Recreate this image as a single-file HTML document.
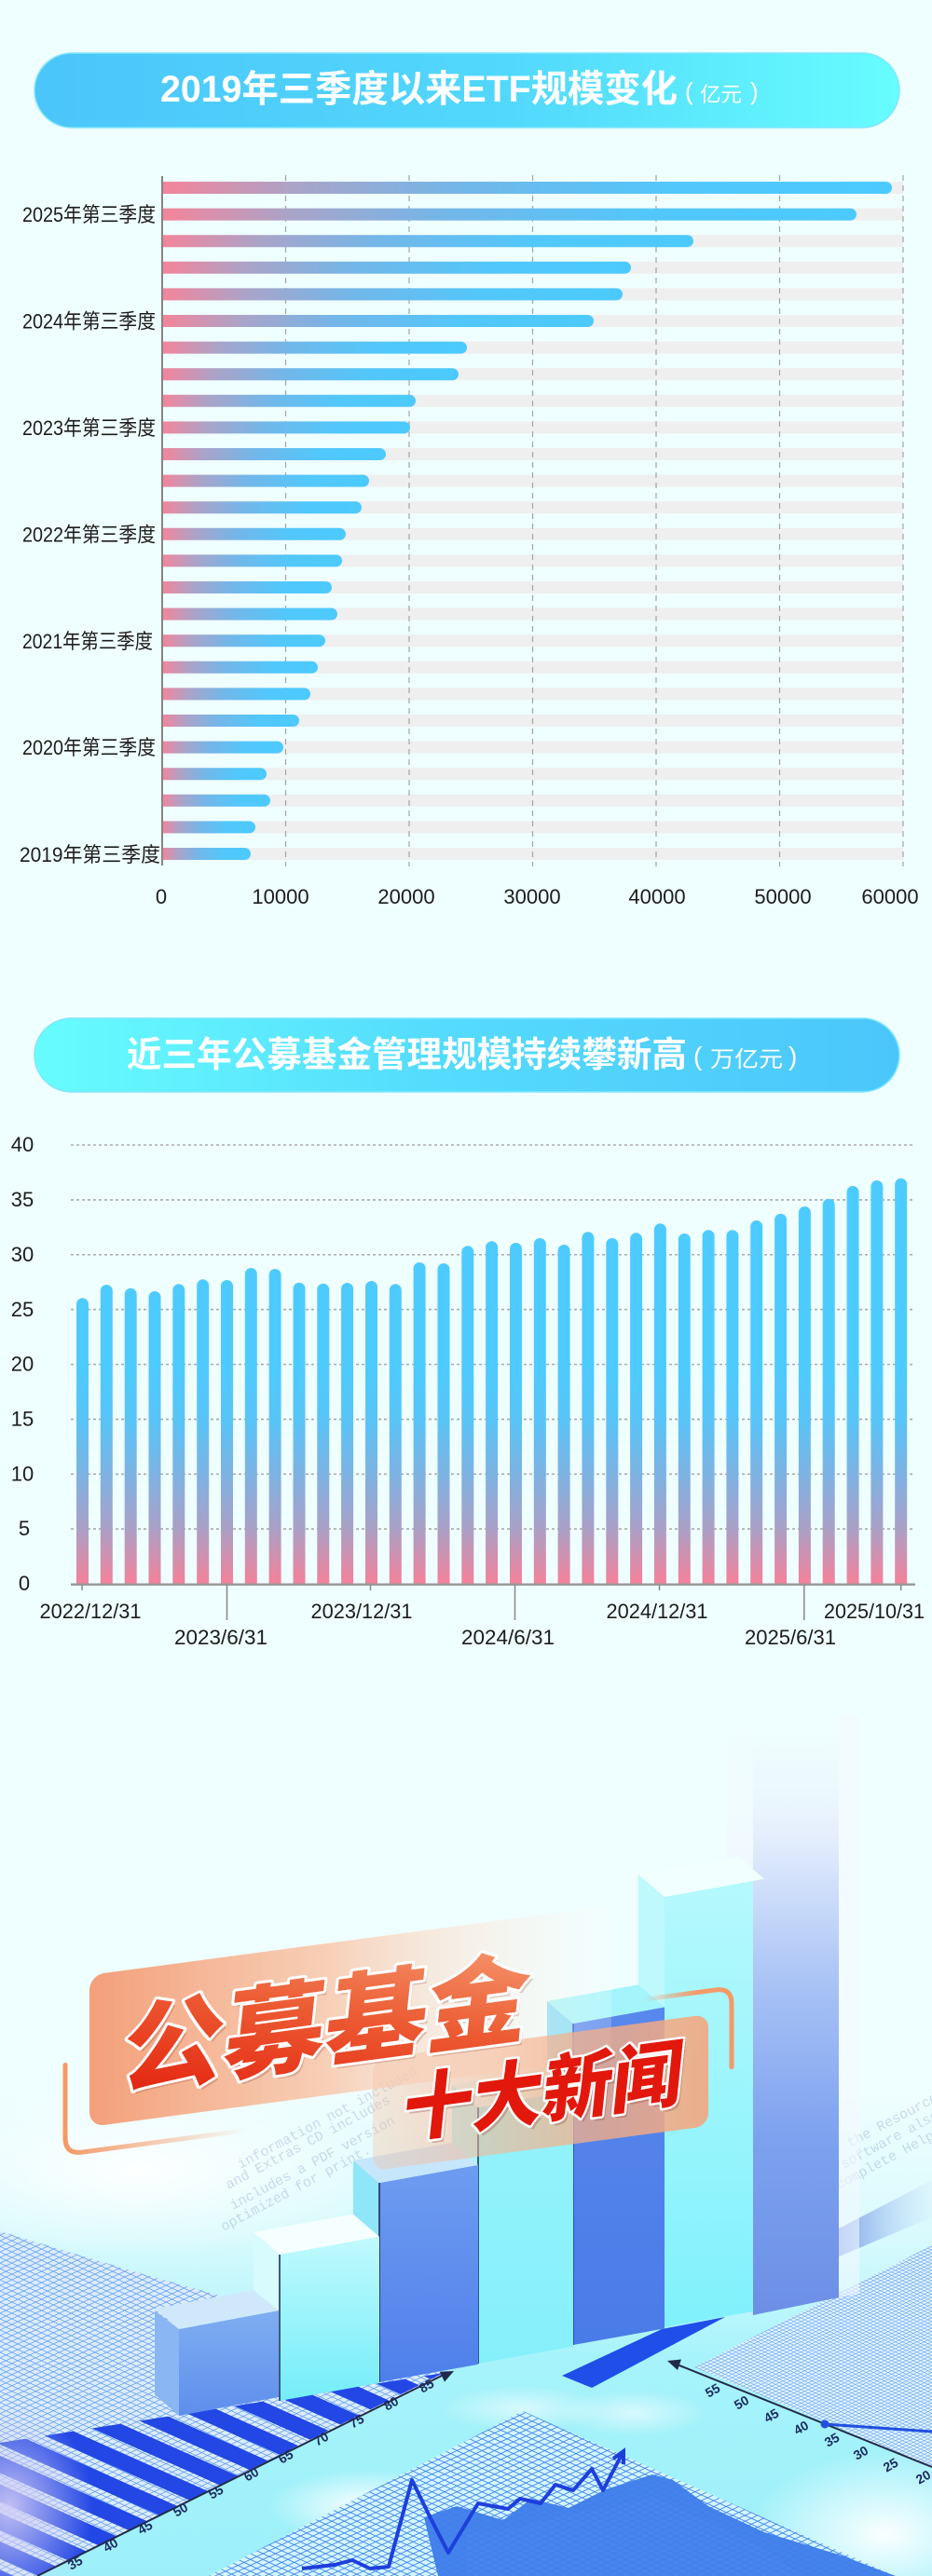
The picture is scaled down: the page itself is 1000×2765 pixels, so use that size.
<!DOCTYPE html>
<html><head><meta charset="utf-8">
<style>
html,body{margin:0;padding:0;background:#effefe;}
body{width:1000px;height:2765px;overflow:hidden;}
svg{display:block;}
.t{font-family:"Liberation Sans","Noto Sans CJK SC",sans-serif;}
.cj{font-family:"Liberation Sans","Noto Sans CJK SC","WenQuanYi Zen Hei",sans-serif;}
</style></head>
<body>
<svg width="1000" height="2765" viewBox="0 0 1000 2765" xmlns="http://www.w3.org/2000/svg">
<defs>
  <linearGradient id="pill1" x1="0" y1="0" x2="1" y2="0">
    <stop offset="0" stop-color="#4bc5fa"/><stop offset="0.55" stop-color="#52d8fc"/><stop offset="1" stop-color="#67fdfe"/>
  </linearGradient>
  <linearGradient id="pill2" x1="0" y1="0" x2="1" y2="0">
    <stop offset="0" stop-color="#67fdfe"/><stop offset="0.45" stop-color="#55dcfd"/><stop offset="1" stop-color="#4bc6fb"/>
  </linearGradient>
  <linearGradient id="hbar" x1="0" y1="0" x2="1" y2="0">
    <stop offset="0" stop-color="#f5849a"/><stop offset="0.18" stop-color="#aba3c8"/><stop offset="0.4" stop-color="#74b6e8"/><stop offset="0.7" stop-color="#52c7fb"/><stop offset="1" stop-color="#4ccaff"/>
  </linearGradient>
  <linearGradient id="vbar" gradientUnits="userSpaceOnUse" x1="0" y1="1700" x2="0" y2="1464">
    <stop offset="0" stop-color="#f5819a"/><stop offset="0.25" stop-color="#aaa0c6"/><stop offset="0.5" stop-color="#7db3e3"/><stop offset="0.75" stop-color="#58c4f7"/><stop offset="1" stop-color="#4dcbff"/>
  </linearGradient>
  <linearGradient id="floor" x1="0" y1="0" x2="0" y2="1">
    <stop offset="0" stop-color="#effefe"/><stop offset="0.3" stop-color="#d8fafd"/><stop offset="0.55" stop-color="#a6f3fb"/><stop offset="1" stop-color="#9df0fa"/>
  </linearGradient>
  <radialGradient id="wglow"><stop offset="0" stop-color="#ffffff" stop-opacity="0.95"/><stop offset="1" stop-color="#ffffff" stop-opacity="0"/></radialGradient>
  <radialGradient id="pglow"><stop offset="0" stop-color="#d3cdf5" stop-opacity="0.9"/><stop offset="1" stop-color="#d3cdf5" stop-opacity="0"/></radialGradient>
  <pattern id="gS" width="9" height="9" patternUnits="userSpaceOnUse" patternTransform="scale(1,0.47) rotate(45)">
    <path d="M0 0.6H9M0.6 0V9" stroke="#5c9bf1" stroke-width="1.2" fill="none"/>
  </pattern>
  <pattern id="gR" width="5.5" height="5.5" patternUnits="userSpaceOnUse" patternTransform="scale(1,0.47) rotate(45)">
    <path d="M0 0.5H5.5M0.5 0V5.5" stroke="#5c9bf1" stroke-width="0.9" fill="none"/>
  </pattern>
  <pattern id="gL" width="9.5" height="9.5" patternUnits="userSpaceOnUse" patternTransform="scale(1,0.47) rotate(45)">
    <path d="M0 0.7H9.5M0.7 0V9.5" stroke="#3a7fee" stroke-width="1.4" fill="none"/>
  </pattern>
  <pattern id="stripes" width="40" height="28" patternUnits="userSpaceOnUse" patternTransform="rotate(24)">
    <rect width="40" height="17" fill="#2247e5"/>
  </pattern>
  <linearGradient id="gG" x1="0" y1="0" x2="0" y2="1">
    <stop offset="0" stop-color="#f2fdff" stop-opacity="0"/><stop offset="0.2" stop-color="#e4eefd"/><stop offset="0.45" stop-color="#a8c2f5"/><stop offset="0.7" stop-color="#7ea2ef"/><stop offset="1" stop-color="#6c8fe6"/>
  </linearGradient>
  <linearGradient id="gGs" x1="0" y1="0" x2="0" y2="1">
    <stop offset="0" stop-color="#f5fdff" stop-opacity="0"/><stop offset="0.3" stop-color="#eef6ff"/><stop offset="1" stop-color="#cfe0fb"/>
  </linearGradient>
  <linearGradient id="fA" x1="0" y1="0" x2="0" y2="1"><stop offset="0" stop-color="#80aef2"/><stop offset="1" stop-color="#5e8eec"/></linearGradient>
  <linearGradient id="fB" x1="0" y1="0" x2="0" y2="1"><stop offset="0" stop-color="#c0fafd"/><stop offset="1" stop-color="#74edf9"/></linearGradient>
  <linearGradient id="fC" x1="0" y1="0" x2="0" y2="1"><stop offset="0" stop-color="#6e9cf1"/><stop offset="1" stop-color="#4e7fea"/></linearGradient>
  <linearGradient id="fD" x1="0" y1="0" x2="0" y2="1"><stop offset="0" stop-color="#95f3fb"/><stop offset="1" stop-color="#86f0fa"/></linearGradient>
  <linearGradient id="fE" x1="0" y1="0" x2="0" y2="1"><stop offset="0" stop-color="#5888ec"/><stop offset="1" stop-color="#4a7be8"/></linearGradient>
  <linearGradient id="fF" x1="0" y1="0" x2="0" y2="1"><stop offset="0" stop-color="#b5f9fd"/><stop offset="1" stop-color="#80f1fb"/></linearGradient>
  <linearGradient id="card1" x1="0" y1="0" x2="1" y2="0">
    <stop offset="0" stop-color="#f39a72" stop-opacity="0.95"/><stop offset="0.45" stop-color="#f8c6a9" stop-opacity="0.85"/><stop offset="1" stop-color="#ffffff" stop-opacity="0.2"/>
  </linearGradient>
  <linearGradient id="card2" x1="0" y1="0" x2="1" y2="0">
    <stop offset="0" stop-color="#f6bfa0" stop-opacity="0.35"/><stop offset="0.6" stop-color="#f5b08a" stop-opacity="0.75"/><stop offset="1" stop-color="#f4a67e" stop-opacity="0.9"/>
  </linearGradient>
  <linearGradient id="ol1" x1="0" y1="0" x2="1" y2="0">
    <stop offset="0" stop-color="#f39a68"/><stop offset="1" stop-color="#f39a68" stop-opacity="0"/>
  </linearGradient>
  <linearGradient id="ol2" x1="0" y1="0" x2="1" y2="0">
    <stop offset="0" stop-color="#f39a68" stop-opacity="0"/><stop offset="0.6" stop-color="#f39a68"/><stop offset="1" stop-color="#f39a68"/>
  </linearGradient>
  <linearGradient id="txt1" x1="0" y1="1" x2="1" y2="0">
    <stop offset="0" stop-color="#e21d0b"/><stop offset="0.55" stop-color="#ec5a32"/><stop offset="1" stop-color="#f69a70"/>
  </linearGradient>
  <linearGradient id="band" x1="0" y1="0" x2="1" y2="0">
    <stop offset="0" stop-color="#6a8ee6"/><stop offset="1" stop-color="#cfe9fb" stop-opacity="0.3"/>
  </linearGradient>
</defs>

<rect x="0" y="0" width="1000" height="2765" fill="#effefe"/>

<!-- ===== Chart 1 ===== -->
<rect x="37" y="57" width="928" height="80" rx="40" fill="url(#pill1)" stroke="#7fe6fd" stroke-width="1.5"/>
<text class="cj" x="172" y="109" font-size="40" font-weight="bold" fill="#ffffff" textLength="555" lengthAdjust="spacingAndGlyphs">2019年三季度以来ETF规模变化</text>
<text class="t" x="735" y="107" font-size="26" fill="#ffffff">(</text>
<text class="cj" x="751" y="109" font-size="22" fill="#ffffff" textLength="45" lengthAdjust="spacingAndGlyphs">亿元</text>
<text class="t" x="805" y="107" font-size="26" fill="#ffffff">)</text>

<g fill="#efefef">
<rect x="174" y="195" width="795" height="13"/><rect x="174" y="223.6" width="795" height="13"/><rect x="174" y="252.2" width="795" height="13"/><rect x="174" y="280.8" width="795" height="13"/><rect x="174" y="309.4" width="795" height="13"/><rect x="174" y="338" width="795" height="13"/><rect x="174" y="366.6" width="795" height="13"/><rect x="174" y="395.2" width="795" height="13"/><rect x="174" y="423.8" width="795" height="13"/><rect x="174" y="452.4" width="795" height="13"/><rect x="174" y="481" width="795" height="13"/><rect x="174" y="509.6" width="795" height="13"/><rect x="174" y="538.2" width="795" height="13"/><rect x="174" y="566.8" width="795" height="13"/><rect x="174" y="595.4" width="795" height="13"/><rect x="174" y="624" width="795" height="13"/><rect x="174" y="652.6" width="795" height="13"/><rect x="174" y="681.2" width="795" height="13"/><rect x="174" y="709.8" width="795" height="13"/><rect x="174" y="738.4" width="795" height="13"/><rect x="174" y="767" width="795" height="13"/><rect x="174" y="795.6" width="795" height="13"/><rect x="174" y="824.2" width="795" height="13"/><rect x="174" y="852.8" width="795" height="13"/><rect x="174" y="881.4" width="795" height="13"/><rect x="174" y="910" width="795" height="13"/>
</g>
<g stroke="#a3a3a3" stroke-width="1.2" stroke-dasharray="6 5">
<line x1="306.5" y1="188" x2="306.5" y2="930"/><line x1="439" y1="188" x2="439" y2="930"/><line x1="571.5" y1="188" x2="571.5" y2="930"/><line x1="704" y1="188" x2="704" y2="930"/><line x1="836.5" y1="188" x2="836.5" y2="930"/><line x1="969" y1="188" x2="969" y2="930"/>
</g>
<g fill="url(#hbar)">
<path d="M174 195h776.5a6.5 6.5 0 0 1 0 13H174z"/>
<path d="M174 223.6h738.5a6.5 6.5 0 0 1 0 13H174z"/>
<path d="M174 252.2h563.5a6.5 6.5 0 0 1 0 13H174z"/>
<path d="M174 280.8h496.5a6.5 6.5 0 0 1 0 13H174z"/>
<path d="M174 309.4h487.5a6.5 6.5 0 0 1 0 13H174z"/>
<path d="M174 338h456.5a6.5 6.5 0 0 1 0 13H174z"/>
<path d="M174 366.6h320.5a6.5 6.5 0 0 1 0 13H174z"/>
<path d="M174 395.2h311.5a6.5 6.5 0 0 1 0 13H174z"/>
<path d="M174 423.8h265.5a6.5 6.5 0 0 1 0 13H174z"/>
<path d="M174 452.4h259.5a6.5 6.5 0 0 1 0 13H174z"/>
<path d="M174 481h233.5a6.5 6.5 0 0 1 0 13H174z"/>
<path d="M174 509.6h215.5a6.5 6.5 0 0 1 0 13H174z"/>
<path d="M174 538.2h207.5a6.5 6.5 0 0 1 0 13H174z"/>
<path d="M174 566.8h190.5a6.5 6.5 0 0 1 0 13H174z"/>
<path d="M174 595.4h186.5a6.5 6.5 0 0 1 0 13H174z"/>
<path d="M174 624h175.5a6.5 6.5 0 0 1 0 13H174z"/>
<path d="M174 652.6h181.5a6.5 6.5 0 0 1 0 13H174z"/>
<path d="M174 681.2h168.5a6.5 6.5 0 0 1 0 13H174z"/>
<path d="M174 709.8h160.5a6.5 6.5 0 0 1 0 13H174z"/>
<path d="M174 738.4h152.5a6.5 6.5 0 0 1 0 13H174z"/>
<path d="M174 767h140.5a6.5 6.5 0 0 1 0 13H174z"/>
<path d="M174 795.6h123.5a6.5 6.5 0 0 1 0 13H174z"/>
<path d="M174 824.2h105.5a6.5 6.5 0 0 1 0 13H174z"/>
<path d="M174 852.8h109.5a6.5 6.5 0 0 1 0 13H174z"/>
<path d="M174 881.4h93.5a6.5 6.5 0 0 1 0 13H174z"/>
<path d="M174 910h88.5a6.5 6.5 0 0 1 0 13H174z"/>
</g>
<line x1="174" y1="189" x2="174" y2="929" stroke="#858585" stroke-width="2"/>
<g class="cj" font-size="22" fill="#1c1c1c" text-anchor="end">
<text x="167" y="238" textLength="143" lengthAdjust="spacingAndGlyphs">2025年第三季度</text>
<text x="167" y="352.5" textLength="143" lengthAdjust="spacingAndGlyphs">2024年第三季度</text>
<text x="167" y="467" textLength="143" lengthAdjust="spacingAndGlyphs">2023年第三季度</text>
<text x="167" y="581.5" textLength="143" lengthAdjust="spacingAndGlyphs">2022年第三季度</text>
<text x="164" y="696" textLength="140" lengthAdjust="spacingAndGlyphs">2021年第三季度</text>
<text x="167" y="810" textLength="143" lengthAdjust="spacingAndGlyphs">2020年第三季度</text>
<text x="172" y="925" textLength="151" lengthAdjust="spacingAndGlyphs">2019年第三季度</text>
</g>
<g class="t" font-size="22" fill="#1c1c1c" text-anchor="middle">
<text x="173" y="970">0</text>
<text x="301" y="970">10000</text>
<text x="436" y="970">20000</text>
<text x="571" y="970">30000</text>
<text x="705" y="970">40000</text>
<text x="840" y="970">50000</text>
<text x="955" y="970">60000</text>
</g>

<!-- ===== Chart 2 ===== -->
<rect x="37" y="1093" width="928" height="79" rx="39.5" fill="url(#pill2)" stroke="#7fe6fd" stroke-width="1.5"/>
<text class="cj" x="136" y="1145" font-size="38" font-weight="bold" fill="#ffffff" textLength="601" lengthAdjust="spacingAndGlyphs">近三年公募基金管理规模持续攀新高</text>
<text class="t" x="744" y="1143" font-size="28" fill="#ffffff">(</text>
<text class="cj" x="762" y="1145" font-size="24" fill="#ffffff" textLength="78" lengthAdjust="spacingAndGlyphs">万亿元</text>
<text class="t" x="846" y="1143" font-size="28" fill="#ffffff">)</text>

<g stroke="#aaaaaa" stroke-width="1.6" stroke-dasharray="3 3">
<line x1="76" y1="1229" x2="982" y2="1229"/><line x1="76" y1="1287.9" x2="982" y2="1287.9"/><line x1="76" y1="1346.75" x2="982" y2="1346.75"/><line x1="76" y1="1405.6" x2="982" y2="1405.6"/><line x1="76" y1="1464.5" x2="982" y2="1464.5"/><line x1="76" y1="1523.4" x2="982" y2="1523.4"/><line x1="76" y1="1582.25" x2="982" y2="1582.25"/><line x1="76" y1="1641.1" x2="982" y2="1641.1"/>
</g>
<g class="t" font-size="22" fill="#1c1c1c" text-anchor="middle">
<text x="24" y="1236">40</text><text x="24" y="1295">35</text><text x="24" y="1354">30</text><text x="24" y="1413">25</text><text x="24" y="1471.5">20</text><text x="24" y="1530.4">15</text><text x="24" y="1589.3">10</text><text x="26" y="1648">5</text><text x="26" y="1707">0</text>
</g>
<g fill="url(#vbar)">
<path d="M82 1700V1399.8a6.5 6.5 0 0 1 13 0V1700z"/>
<path d="M107.8 1700V1385.5a6.5 6.5 0 0 1 13 0V1700z"/>
<path d="M133.7 1700V1389.2a6.5 6.5 0 0 1 13 0V1700z"/>
<path d="M159.5 1700V1392.5a6.5 6.5 0 0 1 13 0V1700z"/>
<path d="M185.3 1700V1384.8a6.5 6.5 0 0 1 13 0V1700z"/>
<path d="M211.2 1700V1379.8a6.5 6.5 0 0 1 13 0V1700z"/>
<path d="M237 1700V1380.5a6.5 6.5 0 0 1 13 0V1700z"/>
<path d="M262.8 1700V1367.5a6.5 6.5 0 0 1 13 0V1700z"/>
<path d="M288.6 1700V1368.5a6.5 6.5 0 0 1 13 0V1700z"/>
<path d="M314.5 1700V1383.2a6.5 6.5 0 0 1 13 0V1700z"/>
<path d="M340.3 1700V1384.2a6.5 6.5 0 0 1 13 0V1700z"/>
<path d="M366.1 1700V1383.5a6.5 6.5 0 0 1 13 0V1700z"/>
<path d="M392 1700V1381.5a6.5 6.5 0 0 1 13 0V1700z"/>
<path d="M417.8 1700V1384.8a6.5 6.5 0 0 1 13 0V1700z"/>
<path d="M443.6 1700V1361.5a6.5 6.5 0 0 1 13 0V1700z"/>
<path d="M469.5 1700V1362.5a6.5 6.5 0 0 1 13 0V1700z"/>
<path d="M495.3 1700V1343.8a6.5 6.5 0 0 1 13 0V1700z"/>
<path d="M521.1 1700V1338.8a6.5 6.5 0 0 1 13 0V1700z"/>
<path d="M547 1700V1340.5a6.5 6.5 0 0 1 13 0V1700z"/>
<path d="M572.8 1700V1335.5a6.5 6.5 0 0 1 13 0V1700z"/>
<path d="M598.6 1700V1342.5a6.5 6.5 0 0 1 13 0V1700z"/>
<path d="M624.4 1700V1328.8a6.5 6.5 0 0 1 13 0V1700z"/>
<path d="M650.3 1700V1335.5a6.5 6.5 0 0 1 13 0V1700z"/>
<path d="M676.1 1700V1329.8a6.5 6.5 0 0 1 13 0V1700z"/>
<path d="M701.9 1700V1319.8a6.5 6.5 0 0 1 13 0V1700z"/>
<path d="M727.8 1700V1330.5a6.5 6.5 0 0 1 13 0V1700z"/>
<path d="M753.6 1700V1326.8a6.5 6.5 0 0 1 13 0V1700z"/>
<path d="M779.4 1700V1326.8a6.5 6.5 0 0 1 13 0V1700z"/>
<path d="M805.2 1700V1316.5a6.5 6.5 0 0 1 13 0V1700z"/>
<path d="M831.1 1700V1309.2a6.5 6.5 0 0 1 13 0V1700z"/>
<path d="M856.9 1700V1301.5a6.5 6.5 0 0 1 13 0V1700z"/>
<path d="M882.7 1700V1293.2a6.5 6.5 0 0 1 13 0V1700z"/>
<path d="M908.6 1700V1279.5a6.5 6.5 0 0 1 13 0V1700z"/>
<path d="M934.4 1700V1273.5a6.5 6.5 0 0 1 13 0V1700z"/>
<path d="M960.2 1700V1271.2a6.5 6.5 0 0 1 13 0V1700z"/>
</g>
<line x1="76" y1="1700.8" x2="982" y2="1700.8" stroke="#9a9a9a" stroke-width="2.5"/>
<g stroke="#888" stroke-width="1.5">
<line x1="88" y1="1701" x2="88" y2="1707"/><line x1="397.5" y1="1701" x2="397.5" y2="1707"/><line x1="707.5" y1="1701" x2="707.5" y2="1707"/><line x1="966.7" y1="1701" x2="966.7" y2="1707"/>
<line x1="243.5" y1="1701" x2="243.5" y2="1739"/><line x1="552.5" y1="1701" x2="552.5" y2="1739"/><line x1="862.8" y1="1701" x2="862.8" y2="1739"/>
</g>
<g class="t" font-size="22" fill="#1c1c1c" text-anchor="middle">
<text x="97" y="1737" textLength="109" lengthAdjust="spacingAndGlyphs">2022/12/31</text>
<text x="388" y="1737" textLength="109" lengthAdjust="spacingAndGlyphs">2023/12/31</text>
<text x="705" y="1737" textLength="109" lengthAdjust="spacingAndGlyphs">2024/12/31</text>
<text x="938" y="1737" textLength="108" lengthAdjust="spacingAndGlyphs">2025/10/31</text>
<text x="237" y="1765" textLength="100" lengthAdjust="spacingAndGlyphs">2023/6/31</text>
<text x="545" y="1765" textLength="100" lengthAdjust="spacingAndGlyphs">2024/6/31</text>
<text x="848" y="1765" textLength="98" lengthAdjust="spacingAndGlyphs">2025/6/31</text>
</g>

<!-- ===== Illustration ===== -->
<rect x="0" y="2250" width="1000" height="515" fill="url(#floor)"/>
<ellipse cx="150" cy="2330" rx="260" ry="90" fill="url(#wglow)"/>

<!-- faint code text -->
<g font-family="Liberation Mono, monospace" font-size="15" fill="#7f9cc4" opacity="0.35">
<text transform="translate(240,2395) rotate(-28)">optimized for print.</text>
<text transform="translate(250,2372) rotate(-28)">includes a PDF version</text>
<text transform="translate(245,2350) rotate(-28)">and Extras CD includes</text>
<text transform="translate(258,2328) rotate(-28)">information not included</text>
<text transform="translate(900,2350) rotate(-28)">complete Help</text>
<text transform="translate(905,2328) rotate(-28)">software also</text>
<text transform="translate(912,2305) rotate(-28)">the Resources</text>
</g>

<!-- left grid -->
<polygon points="0,2395 150,2440 300,2482 481,2548 38,2765 0,2765" fill="#dcecfb"/>
<polygon points="0,2395 150,2440 300,2482 481,2548 38,2765 0,2765" fill="url(#gS)"/>
<!-- left stripes -->
<polygon points="0,2622 140,2600 363,2565 470,2548 480,2545 40,2765 0,2765" fill="url(#stripes)"/>
<ellipse cx="10" cy="2690" rx="90" ry="110" fill="url(#pglow)"/>
<line x1="40" y1="2765" x2="476" y2="2549" stroke="#222a4a" stroke-width="2"/>
<polygon points="487,2545 477,2556.6 471.8,2545.8" fill="#222a4a"/>
<g font-family="Liberation Sans, sans-serif" font-size="14" font-weight="bold" fill="#1d2b62" text-anchor="middle">
<text transform="translate(83,2755) rotate(-30)">35</text>
<text transform="translate(121,2736) rotate(-30)">40</text>
<text transform="translate(158,2717) rotate(-30)">45</text>
<text transform="translate(196,2698) rotate(-30)">50</text>
<text transform="translate(234,2679) rotate(-30)">55</text>
<text transform="translate(272,2660) rotate(-30)">60</text>
<text transform="translate(309,2641) rotate(-30)">65</text>
<text transform="translate(347,2622) rotate(-30)">70</text>
<text transform="translate(385,2603) rotate(-30)">75</text>
<text transform="translate(422,2584) rotate(-30)">80</text>
<text transform="translate(460,2565) rotate(-30)">85</text>
</g>

<!-- floor highlights -->
<ellipse cx="395" cy="2690" rx="110" ry="40" fill="url(#wglow)"/>
<ellipse cx="950" cy="2720" rx="150" ry="90" fill="url(#wglow)"/>
<ellipse cx="560" cy="2585" rx="90" ry="25" fill="url(#wglow)" opacity="0.6"/>
<ellipse cx="680" cy="2590" rx="80" ry="25" fill="url(#wglow)" opacity="0.6"/>

<!-- center diamond grid -->
<polygon points="561,2588 224,2765 961,2765" fill="#d4f6fd"/>
<polygon points="470,2765 455,2702 490,2690 540,2705 570,2682 610,2692 650,2672 700,2656 722,2662 760,2690 820,2718 900,2742 961,2765" fill="#2e6de6" opacity="0.85"/>
<polygon points="500,2765 500,2720 560,2712 600,2700 660,2690 700,2680 760,2705 820,2735 860,2765" fill="#4f86ec" opacity="0.6"/>
<polygon points="561,2588 224,2765 961,2765" fill="url(#gL)"/>
<polyline points="324,2757 359,2753 378,2748 397,2757 417,2755 442,2662 462,2703 481,2740 513,2687 545,2693 558,2682 580,2687 596,2667 615,2673 635,2650 647,2673 668,2633" fill="none" stroke="#1d3fdc" stroke-width="4" stroke-linejoin="round"/>
<polyline points="658,2639 669,2631 669,2645" fill="none" stroke="#1d3fdc" stroke-width="4"/>

<!-- right grid -->
<polygon points="745,2541 1000,2410 1000,2648" fill="#e2f6fd"/>
<polygon points="745,2541 1000,2410 1000,2648" fill="url(#gR)"/>
<line x1="724" y1="2537" x2="1000" y2="2648" stroke="#222a4a" stroke-width="2"/>
<polygon points="716,2534 731,2532.5 727,2544" fill="#222a4a"/>
<circle cx="885" cy="2602" r="4.5" fill="#2050e0"/>
<line x1="885" y1="2602" x2="1000" y2="2610" stroke="#2050e0" stroke-width="3"/>
<g font-family="Liberation Sans, sans-serif" font-size="14" font-weight="bold" fill="#1d2b62" text-anchor="middle">
<text transform="translate(767,2570) rotate(-30)">55</text>
<text transform="translate(798,2583) rotate(-30)">50</text>
<text transform="translate(830,2597) rotate(-30)">45</text>
<text transform="translate(862,2610) rotate(-30)">40</text>
<text transform="translate(895,2623) rotate(-30)">35</text>
<text transform="translate(926,2637) rotate(-30)">30</text>
<text transform="translate(958,2650) rotate(-30)">25</text>
<text transform="translate(993,2663) rotate(-30)">20</text>
</g>

<!-- shadow band and blue parallelogram -->
<polygon points="898,2393 1000,2340 1000,2380 898,2423" fill="url(#band)" opacity="0.85"/>
<polygon points="603,2550 635,2563 778,2487 710,2500" fill="#1f4ee8"/>

<!-- 3D bars: G (back) to A (front) -->
<polygon points="780,1836 808,1860 808,2485 780,2461" fill="url(#gGs)"/>
<polygon points="808,1860 900,1843 900,2466 808,2485" fill="url(#gG)"/>
<polygon points="900,1843 922,1840 922,2462 900,2466" fill="#f4f9ff" opacity="0.6"/>

<polygon points="685,2012 713,2036 713,2498 685,2474" fill="#bff9fd"/>
<polygon points="713,2036 808,2019 808,2481 713,2498" fill="url(#fF)"/>
<polygon points="713,2036 820,2016.7 792,1992.7 685,2012" fill="#f2ffff"/>

<polygon points="587,2148 615,2172 615,2517 587,2493" fill="#80dcf8"/>
<polygon points="615,2172 713,2154.4 713,2499.4 615,2517" fill="url(#fE)"/>
<polygon points="615,2172 713,2154.4 685,2130.4 587,2148" fill="#a3f5fb"/>
<line x1="615" y1="2172" x2="615" y2="2517" stroke="#1f3fcf" stroke-width="1.5"/>

<polygon points="485,2238 513,2262 513,2537 485,2513" fill="#aaf5fc"/>
<polygon points="513,2262 615,2243.6 615,2518.6 513,2537" fill="url(#fD)"/>
<polygon points="513,2262 615,2243.6 587,2219.6 485,2238" fill="#dafcfe"/>
<line x1="513" y1="2262" x2="513" y2="2537" stroke="#1a2456" stroke-width="1.5"/>

<polygon points="379,2319 407,2343 407,2557 379,2533" fill="#8fe6f8"/>
<polygon points="407,2343 513,2323.9 513,2537.9 407,2557" fill="url(#fC)"/>
<polygon points="407,2343 513,2323.9 485,2299.9 379,2319" fill="#c6e6fb"/>
<line x1="407" y1="2343" x2="407" y2="2557" stroke="#1a2456" stroke-width="1.5"/>

<polygon points="272,2396 300,2420 300,2577 272,2553" fill="#d8fbfe"/>
<polygon points="300,2420 407,2400.7 407,2557.7 300,2577" fill="url(#fB)"/>
<polygon points="300,2420 407,2400.7 379,2376.7 272,2396" fill="#f6ffff"/>
<line x1="300" y1="2420" x2="300" y2="2577" stroke="#1a2456" stroke-width="1.5"/>

<polygon points="166,2480 192,2500 192,2593 166,2570" fill="#8ab7f3"/>
<polygon points="192,2500 299,2480 299,2573 192,2593" fill="url(#fA)"/>
<polygon points="192,2500 299,2480 272,2458 166,2478" fill="#cfe9fb"/>

<!-- cards -->
<g transform="translate(96,2283) skewY(-7.6)">
  <rect x="0" y="-163" width="560" height="163" rx="16" fill="url(#card1)"/>
  <path d="M-26 -70 V8 Q-26 26 -8 26 H170" fill="none" stroke="url(#ol1)" stroke-width="5" stroke-linecap="round"/>
</g>
<g transform="translate(760,2282) skewY(-7.6)">
  <rect x="-360" y="-120" width="360" height="120" rx="14" fill="url(#card2)"/>
  <path d="M-70 -145 H8 Q25 -145 25 -128 V-60" fill="none" stroke="url(#ol2)" stroke-width="5" stroke-linecap="round"/>
</g>

<!-- headline text -->
<g transform="translate(131,2244) skewY(-7.6)">
  <text transform="skewX(-6)" x="0" y="0" class="cj" font-size="106" font-weight="900" fill="#8a3a28" opacity="0.25" textLength="436" lengthAdjust="spacingAndGlyphs">公募基金</text>
</g>
<g transform="translate(128,2240) skewY(-7.6)">
  <text transform="skewX(-6)" x="0" y="0" class="cj" font-size="106" font-weight="900" fill="url(#txt1)" stroke="#ffffff" stroke-width="6" stroke-linejoin="round" paint-order="stroke" textLength="436" lengthAdjust="spacingAndGlyphs">公募基金</text>
</g>
<g transform="translate(433,2297) skewY(-7.6)">
  <text transform="skewX(-6)" x="0" y="0" class="cj" font-size="78" font-weight="900" fill="#7a2a20" opacity="0.25" textLength="300" lengthAdjust="spacingAndGlyphs">十大新闻</text>
</g>
<g transform="translate(430,2293) skewY(-7.6)">
  <text transform="skewX(-6)" x="0" y="0" class="cj" font-size="78" font-weight="900" fill="#e2180c" stroke="#ffffff" stroke-width="5" stroke-linejoin="round" paint-order="stroke" textLength="300" lengthAdjust="spacingAndGlyphs">十大新闻</text>
</g>
</svg>
</body></html>
